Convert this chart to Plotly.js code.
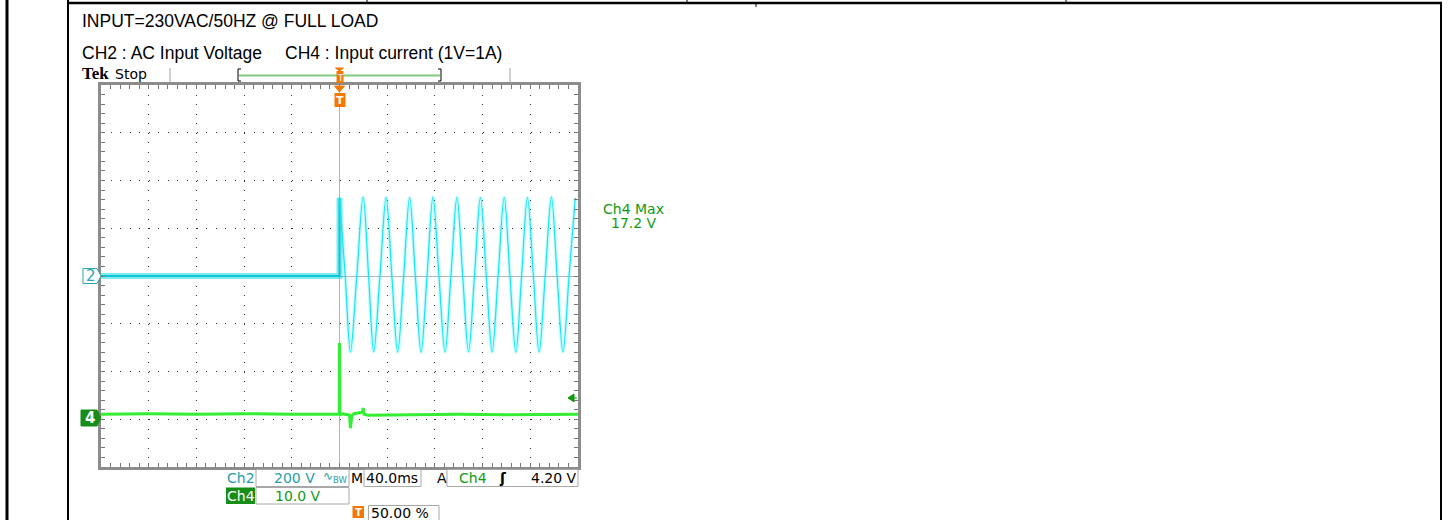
<!DOCTYPE html>
<html><head><meta charset="utf-8">
<script src="https://cdn.plot.ly/plotly-3.0.1.min.js"></script>
<style>html,body{margin:0;padding:0;background:#fff;}#chart{width:1451px;height:520px;}</style>
</head><body><div id="chart"></div>
<script>
// ---------- data ----------
// Ch2: AC input voltage (V), time in ms relative to trigger
const ch2PreTime = [-200, 0, 0];
const ch2PreVolt = [0, 0, 328];
const ch2Time = [0, 4.8, 9.2, 14.5, 19.8, 24.4, 28.7, 33.9, 39.1, 43.9, 48.8, 53.8, 58.8, 63.6, 68.4, 73.4,
  78.4, 83.4, 88.5, 93.4, 98.5, 103.3, 108.2, 113.2, 118.2, 123.1, 128.0, 133.0, 138.1, 142.9, 147.9,
  152.7, 157.6, 162.6, 167.4, 172.5, 177.7, 182.5, 187.4, 192.5, 197.7];
const ch2Volt = [328, 0, -318, 0, 330, 0, -317, 0, 329, 0, -318, 0, 328, 0, -319, 0,
  330, 0, -318, 0, 329, 0, -317, 0, 328, 0, -318, 0, 329, 0, -319,
  0, 328, 0, -318, 0, 330, 0, -318, 0, 328];
// Ch4: input current probe (V, 1V=1A)
const ch4Time = [-200, -160, -120, -80, -40, -0.2, 0, 0.4, 1.5, 5, 8.4, 9.2, 10.2, 12, 16, 19.3, 19.8, 20.6, 24, 60, 100, 140, 180, 200];
const ch4Volt = [0.8, 0.9, 0.8, 0.9, 0.8, 0.8, 15.7, 0.6, 0.9, 0.7, 0.6, -2.1, 0.3, 0.9, 1.0, 1.2, 2.1, 0.8, 0.6, 0.7, 0.8, 0.7, 0.8, 0.8];
const ch4TrigLevel = 4.2;
const titleLine = 'INPUT=230VAC/50HZ @ FULL LOAD';
const ch2Desc = 'CH2 : AC Input Voltage';
const ch4Desc = 'CH4 : Input current (1V=1A)';
const maxLabel = ['Ch4 Max', '17.2 V'];
const readout = {ch2Scale: '200 V', ch4Scale: '10.0 V', timebase: '40.0ms', trigSrc: 'Ch4', trigLevel: '4.20 V', trigPos: '50.00 %'};

// ---------- geometry helpers (layout only) ----------
const L = 101, R = 578, T = 85, B = 467;
const fx = px => (px - L) / (R - L);
const fy = py => (B - py) / (B - T);
const CYAN_T = '#1f9ea6', GREEN_T = '#129a12', ORANGE = '#f47800';
const scopeFont = 'DejaVu Sans, sans-serif';
const docFont = 'Liberation Sans, Arial, sans-serif';

function txt(text, px, py, o = {}) {
  return Object.assign({xref: 'paper', yref: 'paper', x: fx(px), y: fy(py), xanchor: 'left', yanchor: 'middle',
    showarrow: false, text: text, borderpad: 0,
    font: {family: o.family || scopeFont, size: o.size || 14, color: o.color || '#000'}}, o.extra || {});
}
function rect(x0, y0, x1, y1, line, fill) {
  return {type: 'rect', xref: 'paper', yref: 'paper', x0: fx(x0), x1: fx(x1), y0: fy(y0), y1: fy(y1),
    line: line || {color: '#a8a8a8', width: 1}, fillcolor: fill || 'rgba(0,0,0,0)', layer: 'above'};
}
function seg(x0, y0, x1, y1, color, width) {
  return {type: 'line', xref: 'paper', yref: 'paper', x0: fx(x0), x1: fx(x1), y0: fy(y0), y1: fy(y1),
    line: {color: color, width: width}, layer: 'above'};
}
function pathPx(d, fill, lineColor, xref, xa, yref, ya) {
  return {type: 'path', xref: xref, yref: yref, xsizemode: 'pixel', ysizemode: 'pixel', xanchor: xa, yanchor: ya,
    path: d, fillcolor: fill, line: {color: lineColor, width: 1}, layer: 'above'};
}

// ---------- traces ----------
const traces = [
  {x: ch2PreTime, y: ch2PreVolt, mode: 'lines', line: {color: 'rgba(0,215,228,0.5)', width: 6}, hoverinfo: 'skip', showlegend: false},
  {x: ch2PreTime, y: ch2PreVolt, mode: 'lines', line: {color: '#0fc6d4', width: 2}, hoverinfo: 'skip', showlegend: false},
  {x: ch2Time, y: ch2Volt, mode: 'lines', line: {color: 'rgba(0,235,245,0.22)', width: 3.5, shape: 'spline', smoothing: 1}, hoverinfo: 'skip', showlegend: false},
  {x: ch2Time, y: ch2Volt, mode: 'lines', line: {color: '#16e6f2', width: 1.2, shape: 'spline', smoothing: 1}, hoverinfo: 'skip', showlegend: false},
  {x: ch4Time, y: ch4Volt, yaxis: 'y2', mode: 'lines', line: {color: '#33ee33', width: 3}, hoverinfo: 'skip', showlegend: false}
];

// ---------- axes ----------
const border = {showline: true, linecolor: '#8c8c8c', linewidth: 3, mirror: 'allticks', ticks: 'inside', ticklen: 4,
  tickwidth: 1, tickcolor: '#777', showticklabels: false, showgrid: true, gridcolor: '#333', gridwidth: 1,
  griddash: '1px,8.55px', zeroline: true, zerolinecolor: '#b4b4b4', zerolinewidth: 1, fixedrange: true};
const xaxis = Object.assign({}, border, {range: [-200, 200], dtick: 40, tick0: 0,
  minor: {dtick: 8, tick0: 0, ticks: 'inside', ticklen: 4, tickwidth: 1, tickcolor: '#777', showgrid: false}});
const yaxis = Object.assign({}, border, {range: [-800, 800], dtick: 200, tick0: 0,
  minor: {dtick: 40, tick0: 0, ticks: 'inside', ticklen: 4, tickwidth: 1, tickcolor: '#777', showgrid: false}});
const crossX = t => ({overlaying: 'x', anchor: 'free', position: 0.5, range: [-200, 200], showgrid: false, zeroline: false,
  showline: false, showticklabels: false, ticks: t, ticklen: 3, tickwidth: 1, tickcolor: '#666', dtick: 40, tick0: 0,
  minor: {dtick: 8, tick0: 0, ticks: t, ticklen: 3, tickwidth: 1, tickcolor: '#666'}, fixedrange: true});
const crossY = t => ({overlaying: 'y', anchor: 'free', position: 0.5, range: [-800, 800], showgrid: false, zeroline: false,
  showline: false, showticklabels: false, ticks: t, ticklen: 3, tickwidth: 1, tickcolor: '#666', dtick: 200, tick0: 0,
  minor: {dtick: 40, tick0: 0, ticks: t, ticklen: 3, tickwidth: 1, tickcolor: '#666'}, fixedrange: true});

// ---------- decorations ----------
const shapes = [
  // document table lines
  seg(7, 0, 7, 520, '#000', 3),
  seg(68, 0, 68, 520, '#000', 2),
  seg(67, 3, 1442, 3, '#000', 2.5),
  seg(1441, 3, 1441, 520, '#000', 2),
  seg(367, 0, 367, 3, '#000', 1),
  seg(687, 0, 687, 3, '#000', 1),
  seg(756, 3, 756, 7, '#000', 1),
  seg(1066, 0, 1066, 3, '#000', 1),
  // record view bar
  seg(170, 68, 170, 83, '#a0a0a0', 1),
  seg(510, 68, 510, 83, '#a0a0a0', 1),
  seg(239, 75.5, 440, 75.5, '#80cc80', 2),
  seg(238, 69, 238, 81, '#000', 1), seg(238, 69, 241, 69, '#000', 1), seg(238, 81, 241, 81, '#000', 1),
  seg(441, 69, 441, 81, '#000', 1), seg(438, 69, 441, 69, '#000', 1), seg(438, 81, 441, 81, '#000', 1),
  // trigger position markers (orange)
  pathPx('M -4,0 L 4,0 L 0,-3 Z', ORANGE, ORANGE, 'x', 0, 'paper', fy(68)),
  {type: 'rect', xref: 'paper', yref: 'paper', x0: fx(336.5), x1: fx(343.5), y0: fy(71), y1: fy(83), fillcolor: ORANGE, line: {width: 0}, layer: 'above'},
  pathPx('M -5,0 L 5,0 L 0,-6 Z', ORANGE, ORANGE, 'x', 0, 'paper', fy(86)),
  {type: 'rect', xref: 'paper', yref: 'paper', x0: fx(334.5), x1: fx(345.5), y0: fy(93), y1: fy(107), fillcolor: ORANGE, line: {width: 0}, layer: 'above'},
  // channel markers
  pathPx('M -18,7.5 L -4,7.5 L 0,0 L -4,-7.5 L -18,-7.5 Z', '#ffffff', '#27a9b2', 'paper', 0, 'y', 0),
  pathPx('M -20,8 L -4,8 L 0,0 L -4,-8 L -20,-8 Z', '#178c17', '#178c17', 'paper', 0, 'y2', 0),
  // trigger level arrow for Ch4
  pathPx('M -10,0 L -4,-4 L -4,4 Z', '#119911', '#119911', 'paper', 1, 'y2', ch4TrigLevel),
  pathPx('M -4,0 L -1,0', 'rgba(0,0,0,0)', '#119911', 'paper', 1, 'y2', ch4TrigLevel),
  // readout boxes
  rect(256, 469.5, 349, 486.5),
  rect(364, 469.5, 421, 486.5),
  rect(447, 469.5, 578, 486.5),
  rect(226, 487.5, 255, 504, {width: 0}, '#178c17'),
  rect(256, 487.5, 349, 504),
  rect(368.5, 505.5, 439, 522),
  rect(352.5, 506, 364, 518, {width: 0}, ORANGE)
];

const annotations = [
  txt(titleLine, 81, 21, {family: docFont, size: 17.5}),
  txt(ch2Desc, 81, 53, {family: docFont, size: 17.5}),
  txt(ch4Desc, 284, 53, {family: docFont, size: 17.5}),
  txt('<b>Tek</b>', 81, 74, {family: 'Liberation Serif, Times New Roman, serif', size: 17}),
  txt('Stop', 114, 74, {size: 14}),
  txt('T', 340, 77.5, {size: 9, color: '#fff', extra: {xanchor: 'center'}}),
  txt('<b>T</b>', 340, 100.5, {size: 11, color: '#fff', extra: {xanchor: 'center'}}),
  txt(maxLabel[0], 633.5, 209, {size: 14, color: GREEN_T, extra: {xanchor: 'center'}}),
  txt(maxLabel[1], 633.5, 223, {size: 14, color: GREEN_T, extra: {xanchor: 'center'}}),
  {xref: 'paper', yref: 'y', x: fx(90.5), y: 0, xanchor: 'center', yanchor: 'middle', showarrow: false, text: '2',
    font: {family: scopeFont, size: 15, color: '#27a9b2'}},
  {xref: 'paper', yref: 'y2', x: fx(90), y: 0, xanchor: 'center', yanchor: 'middle', showarrow: false, text: '<b>4</b>',
    font: {family: scopeFont, size: 15, color: '#fff'}},
  // readouts
  txt('Ch2', 226, 478, {color: CYAN_T}),
  txt(readout.ch2Scale, 273, 478, {color: CYAN_T}),
  txt('∿<sub>BW</sub>', 322, 477, {color: CYAN_T, size: 12}),
  txt('M', 350, 478),
  txt(readout.timebase, 365, 478),
  txt('A', 436, 478),
  txt(readout.trigSrc, 458, 478, {color: GREEN_T}),
  txt('<b>ʃ</b>', 498, 478),
  txt(readout.trigLevel, 530, 478),
  txt('Ch4', 226, 496, {color: '#fff'}),
  txt(readout.ch4Scale, 274, 496, {color: GREEN_T}),
  txt('<b>T</b>', 358.25, 512.5, {size: 10, color: '#fff', extra: {xanchor: 'center'}}),
  txt(readout.trigPos, 370, 513)
];

const layout = {
  width: 1451, height: 520, margin: {l: L, r: 1451 - R, t: T, b: 520 - B, pad: 0},
  paper_bgcolor: '#fff', plot_bgcolor: '#fff', showlegend: false,
  xaxis: xaxis, yaxis: yaxis,
  yaxis2: {overlaying: 'y', range: [-10.26, 69.74], visible: false, fixedrange: true},
  xaxis2: crossX('inside'), xaxis3: crossX('outside'),
  yaxis3: crossY('inside'), yaxis4: crossY('outside'),
  shapes: shapes, annotations: annotations
};
Plotly.newPlot('chart', traces, layout, {staticPlot: true, displayModeBar: false});
</script></body></html>
